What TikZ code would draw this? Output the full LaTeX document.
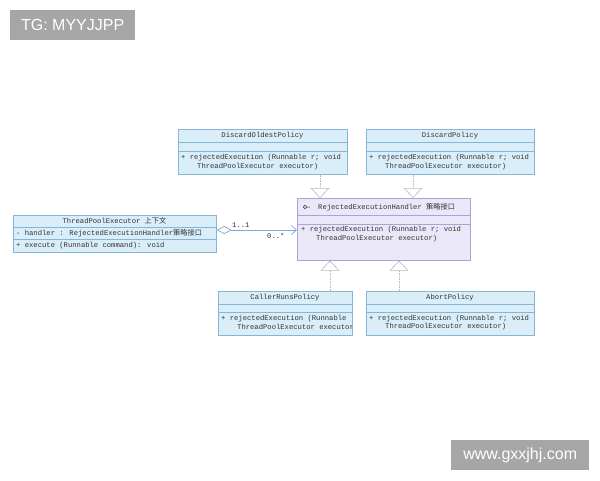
\documentclass[tikz,border=0pt]{standalone}
\usepackage{fontspec}
\setmainfont{Liberation Sans}
\newfontfamily\umlfont{Liberation Mono}
\newfontfamily\cjk{Noto Sans CJK SC}
\usetikzlibrary{arrows.meta}
\definecolor{bluebg}{HTML}{DAEEFA}
\definecolor{bluebd}{HTML}{86B6D6}
\definecolor{lavbg}{HTML}{EAE8F8}
\definecolor{lavbd}{HTML}{A8A5D2}
\definecolor{tagbg}{HTML}{A6A6A6}
\definecolor{txtc}{HTML}{333333}
\definecolor{assocc}{HTML}{7DAAD0}
\tikzset{
  bluebox/.style={draw=bluebd, fill=bluebg, line width=0.7pt, inner sep=0pt, anchor=north west},
  lavbox/.style={draw=lavbd, fill=lavbg, line width=0.7pt, inner sep=0pt, anchor=north west},
  bsep/.style={draw=bluebd, line width=0.6pt},
  lsep/.style={draw=lavbd, line width=0.6pt},
  txt/.style={font=\umlfont\fontsize{7.2}{8}\selectfont, inner sep=0pt, text=txtc},
  ltxt/.style={txt, anchor=west},
  realize/.style={draw=gray!55, line width=0.6pt, densely dotted, -{Triangle[length=10pt,width=19pt,fill=white]}},
  assoc/.style={draw=assocc, line width=0.7pt, {Diamond[open,length=15pt,width=8pt]}-{Straight Barb[length=5pt,width=9pt]}},
  tag/.style={fill=tagbg, text=white, font=\fontsize{16}{16}\selectfont, inner sep=0pt, anchor=north west, minimum height=30pt}
}
\begin{document}
\begin{tikzpicture}[x=1pt,y=-1pt]
\fill[white] (0,0) rectangle (600,480);
\useasboundingbox (0,0) rectangle (600,480);

% tags
\node[tag, minimum width=125pt] (tg) at (10,10) {TG: MYYJJPP};
\node[tag, minimum width=138pt] (web) at (451,440) {www.gxxjhj.com};

% DiscardOldestPolicy
\node[bluebox, minimum width=169pt, minimum height=45pt] (dop) at (178,129) {};
\draw[bsep] (178,142) -- (347,142);
\draw[bsep] (178,151) -- (347,151);
\node[txt] (dopt) at (262.5,135.5) {DiscardOldestPolicy};
\node[ltxt] (dopm1) at (181,158) {+ rejectedExecution (Runnable r; void};
\node[ltxt] (dopm2) at (197,166.5) {ThreadPoolExecutor executor)};

% DiscardPolicy
\node[bluebox, minimum width=168pt, minimum height=45pt] (dp) at (366,129) {};
\draw[bsep] (366,142) -- (534,142);
\draw[bsep] (366,151) -- (534,151);
\node[txt] (dpt) at (450,135.5) {DiscardPolicy};
\node[ltxt] (dpm1) at (369,158) {+ rejectedExecution (Runnable r; void};
\node[ltxt] (dpm2) at (385,166.5) {ThreadPoolExecutor executor)};

% ThreadPoolExecutor
\node[bluebox, minimum width=203pt, minimum height=37pt] (tpe) at (13,215) {};
\draw[bsep] (13,227) -- (216,227);
\draw[bsep] (13,239) -- (216,239);
\node[txt] (tpet) at (114.5,221) {ThreadPoolExecutor {\cjk 上下文}};
\node[ltxt] (tpea) at (16,233) {- handler : RejectedExecutionHandler{\cjk 策略接口}};
\node[ltxt] (tpem) at (16,245.5) {+ execute (Runnable command): void};

% RejectedExecutionHandler
\node[lavbox, minimum width=173pt, minimum height=62pt] (rej) at (297,198) {};
\draw[lsep] (297,215) -- (470,215);
\draw[lsep] (297,224) -- (470,224);
\draw[txtc, line width=0.5pt] (305,207) circle (1.8pt) (306.8,207) -- (310,207);
\node[ltxt] (rejt) at (318,207) {RejectedExecutionHandler {\cjk 策略接口}};
\node[ltxt] (rejm1) at (301,230) {+ rejectedExecution (Runnable r; void};
\node[ltxt] (rejm2) at (316,238.5) {ThreadPoolExecutor executor)};

% CallerRunsPolicy
\node[bluebox, minimum width=134pt, minimum height=44pt] (crp) at (218,291) {};
\draw[bsep] (218,304) -- (352,304);
\draw[bsep] (218,312) -- (352,312);
\node[txt] (crpt) at (285,297.5) {CallerRunsPolicy};
\begin{scope}
\clip (218,312) rectangle (351.5,335);
\node[ltxt] (crpm1) at (221,318.5) {+ rejectedExecution (Runnable};
\node[ltxt] (crpm2) at (237,327) {ThreadPoolExecutor executor};
\end{scope}

% AbortPolicy
\node[bluebox, minimum width=168pt, minimum height=44pt] (ap) at (366,291) {};
\draw[bsep] (366,304) -- (534,304);
\draw[bsep] (366,312) -- (534,312);
\node[txt] (apt) at (450,297.5) {AbortPolicy};
\node[ltxt] (apm1) at (369,318.5) {+ rejectedExecution (Runnable r; void};
\node[ltxt] (apm2) at (385,327) {ThreadPoolExecutor executor)};

% realizations
\coordinate (x1) at (320,0);
\coordinate (x2) at (413,0);
\coordinate (x3) at (330,0);
\coordinate (x4) at (399,0);
\draw[realize] (dop.south -| x1) -- (rej.north -| x1);
\draw[realize] (dp.south -| x2) -- (rej.north -| x2);
\draw[realize] (crp.north -| x3) -- (rej.south -| x3);
\draw[realize] (ap.north -| x4) -- (rej.south -| x4);

% association
\coordinate (ay) at (0,230);
\draw[assoc] (tpe.east |- ay) -- (rej.west |- ay);
\node[txt, anchor=west] (m1) at (232,225.5) {1..1};
\node[txt, anchor=west] (m2) at (267,235.5) {0..*};
\end{tikzpicture}
\end{document}
